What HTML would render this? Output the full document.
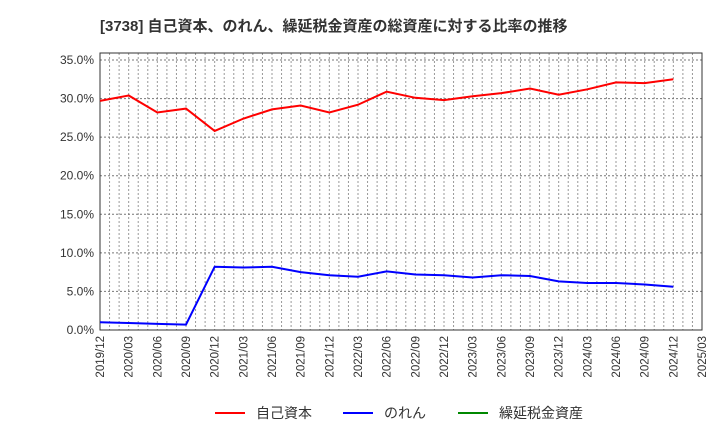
<!DOCTYPE html>
<html><head><meta charset="utf-8"><style>
body{margin:0;background:#fff;width:720px;height:440px;overflow:hidden}
svg{font-family:"Liberation Sans","Noto Sans CJK JP",sans-serif}
</style></head><body>
<svg id="c" width="720" height="440" xmlns="http://www.w3.org/2000/svg">
<text x="100" y="31" font-size="15" font-weight="bold" fill="#333">[3738]  自己資本、のれん、繰延税金資産の総資産に対する比率の推移</text>
<g id="grid"></g><g id="axes"></g><g id="series"></g>
<g>
<line x1="215" y1="413" x2="245" y2="413" stroke="#f00" stroke-width="2"/>
<text x="256" y="418" font-size="14" fill="#333">自己資本</text>
<line x1="343" y1="413" x2="373" y2="413" stroke="#00f" stroke-width="2"/>
<text x="384" y="418" font-size="14" fill="#333">のれん</text>
<line x1="458" y1="413" x2="488" y2="413" stroke="#080" stroke-width="2"/>
<text x="499" y="418" font-size="14" fill="#333">繰延税金資産</text>
</g>
</svg>
<script>
const categories=["2019/12","2020/03","2020/06","2020/09","2020/12","2021/03","2021/06","2021/09","2021/12","2022/03","2022/06","2022/09","2022/12","2023/03","2023/06","2023/09","2023/12","2024/03","2024/06","2024/09","2024/12","2025/03"];
const equity=[29.7,30.4,28.2,28.7,25.8,27.4,28.6,29.1,28.2,29.2,30.9,30.1,29.8,30.3,30.7,31.3,30.5,31.2,32.1,32.0,32.5];
const goodwill=[1.0,0.9,0.8,0.7,8.2,8.1,8.2,7.5,7.1,6.9,7.6,7.2,7.1,6.8,7.1,7.0,6.3,6.1,6.1,5.9,5.6];
const dta=[];
const yTicks=[0,5,10,15,20,25,30,35];
const NS="http://www.w3.org/2000/svg";
const L=100,R=702,T=53,B=330;
const x=i=>L+(R-L)*i/(categories.length-1);
const y=v=>B-(B-60)*v/35;
function mk(t,a,p){const e=document.createElementNS(NS,t);for(const k in a)e.setAttribute(k,a[k]);document.getElementById(p).appendChild(e);return e;}
const grid=document.getElementById('grid');
for(let m=0;m<=63;m++){const xx=L+(R-L)*m/63;
 const g=mk('line',{x1:xx,x2:xx,y1:T,y2:B,stroke:'#999','stroke-width':1,'stroke-dasharray':'2,2'},'grid');
 
 }
yTicks.forEach(v=>{const g=mk('line',{x1:L,x2:R,y1:y(v),y2:y(v),stroke:'#777','stroke-width':1,'stroke-dasharray':'2,2'},'grid');
 
 
 const t=mk('text',{x:L-6,y:y(v)+4,'text-anchor':'end','font-size':12,fill:'#333'},'axes');t.textContent=v.toFixed(1)+'%';
 
 });
const fr=mk('rect',{x:L,y:T,width:R-L,height:B-T,fill:'none',stroke:'#333','stroke-width':1},'axes');


categories.forEach((c,i)=>{const t=mk('text',{transform:`translate(${x(i)+4},${B+6}) rotate(-90)`,'text-anchor':'end','font-size':11.5,fill:'#333'},'axes');t.textContent=c;
 
 });
function line(d,col,name){if(!d.length)return;const p=mk('polyline',{points:d.map((v,i)=>x(i)+','+y(v)).join(' '),fill:'none',stroke:col,'stroke-width':2},'series');
 
 }
line(equity,'#f00','equity-line');line(goodwill,'#00f','goodwill-line');line(dta,'#080','dta-line');
</script>
</body></html>
